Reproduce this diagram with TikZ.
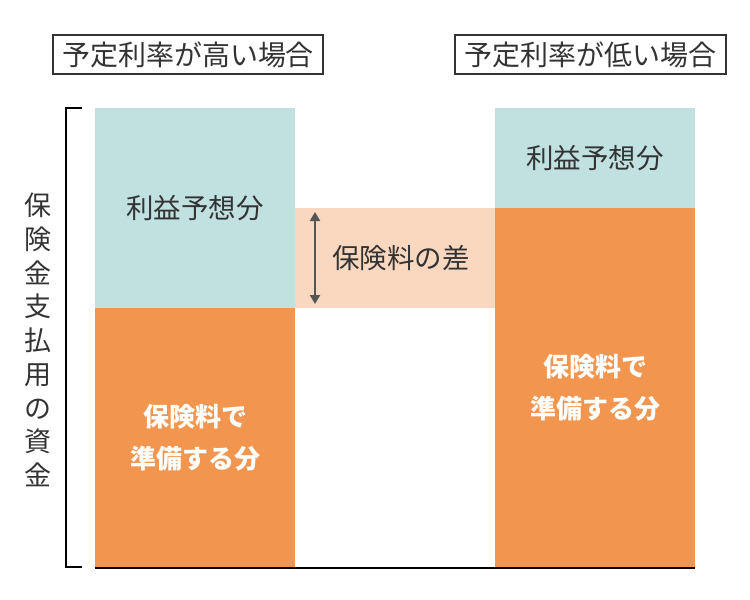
\documentclass[tikz,border=0pt]{standalone}
\usepackage{fontspec}
\newfontfamily\cjk{Noto Sans CJK JP}
\usetikzlibrary{arrows.meta}
\definecolor{teal1}{HTML}{C1E0E0}
\definecolor{orng}{HTML}{F2964F}
\definecolor{peach}{HTML}{FAD7BF}
\definecolor{txt}{HTML}{333333}
\definecolor{arr}{HTML}{555555}
\tikzset{
  titlebox/.style={draw=txt, line width=2pt, text=txt, minimum width=270pt, minimum height=39pt, inner sep=0pt, font={\cjk\fontsize{28}{30}\selectfont}},
  darklabel/.style={text=txt, inner sep=0pt, font={\cjk\fontsize{27.5}{30}\selectfont}},
  whitelabel/.style={text=white, inner sep=0pt, align=center, font={\cjk\bfseries\fontsize{26}{42}\selectfont}},
  vlabel/.style={text=txt, inner sep=0pt, align=center, font={\cjk\fontsize{27}{33.75}\selectfont}},
}
\begin{document}
\begin{tikzpicture}[x=1pt,y=-1pt]
\useasboundingbox (0,0) rectangle (750,600);
% bars
\fill[teal1] (95,108) rectangle (295,308);
\fill[orng] (95,308) rectangle (295,567);
\fill[teal1] (495,108) rectangle (695,208);
\fill[orng] (495,208) rectangle (695,567);
\fill[peach] (295,208) rectangle (495,308);
% baseline
\draw[black, line width=2.5pt] (95,568) -- (695,568);
% bracket
\draw[black, line width=2pt] (82,108) -- (66,108) -- (66,567) -- (82,567);
% titles
\node[titlebox] (t1) at (188,54.5) {予定利率が高い場合};
\node[titlebox, minimum width=271pt] (t2) at (590.5,54.5) {予定利率が低い場合};
% labels
\node[darklabel] (l1) at (195,208) {利益予想分};
\node[darklabel] (l2) at (595,158) {利益予想分};
\node[darklabel] (l3) at (401,258) {保険料の差};
\node[whitelabel] (w1) at (195,438) {保険料で\\準備する分};
\node[whitelabel] (w2) at (595,388) {保険料で\\準備する分};
\node[vlabel] (v) at (38,340) {保\\険\\金\\支\\払\\用\\の\\資\\金};
% arrow
\coordinate (a1) at (315,212);
\coordinate (a2) at (315,304);
\draw[arr, line width=2pt, {Triangle[width=10pt,length=9pt]}-{Triangle[width=10pt,length=9pt]}] (a1) -- (a2);
\end{tikzpicture}
\end{document}
